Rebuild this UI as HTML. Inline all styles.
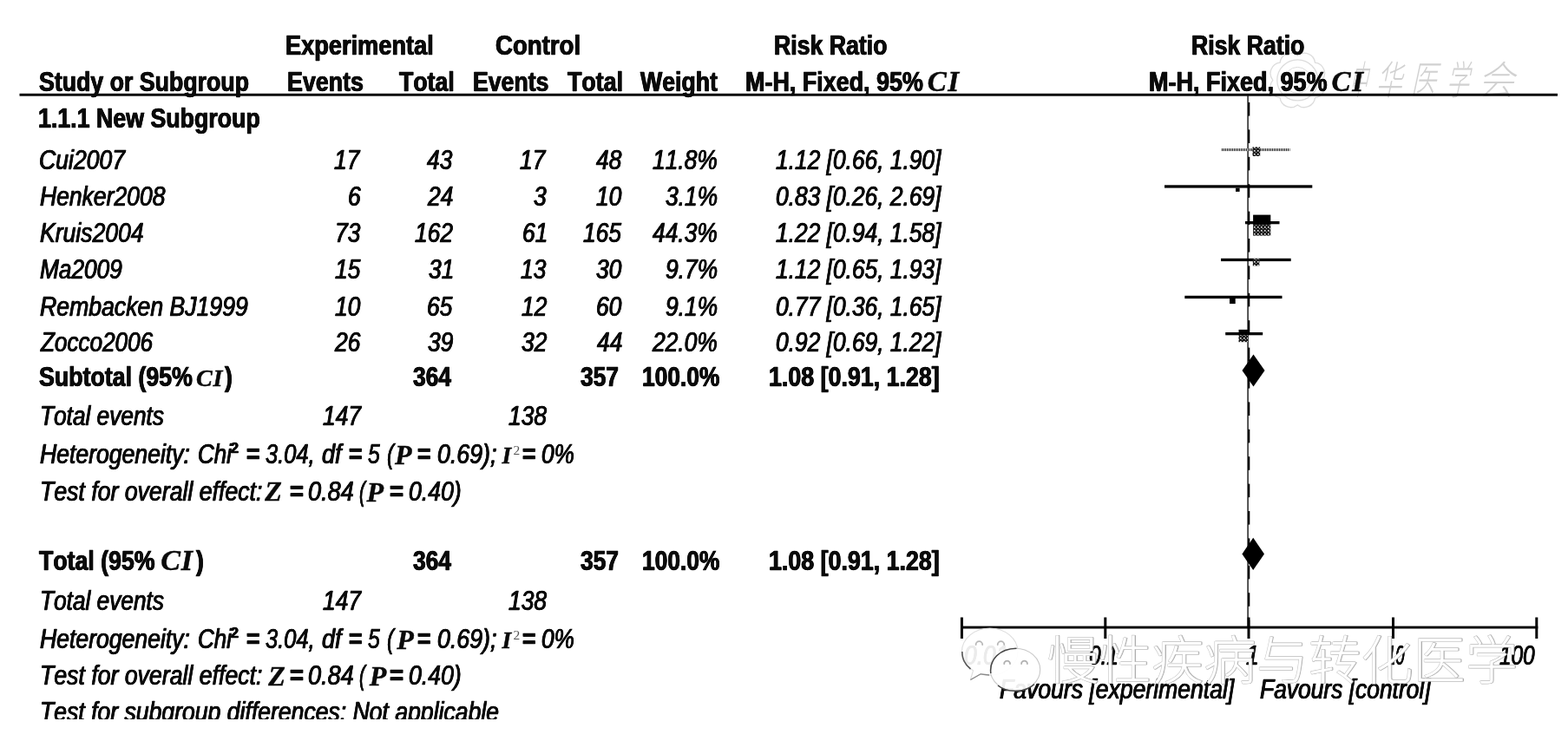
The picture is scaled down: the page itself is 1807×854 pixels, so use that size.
<!DOCTYPE html>
<html><head><meta charset="utf-8"><title>Forest plot</title>
<style>
html,body{margin:0;padding:0;background:#fff;}
body{width:1807px;height:854px;position:relative;overflow:hidden;font-family:"Liberation Sans",sans-serif;color:#0a0a0a;}
.t{position:absolute;white-space:nowrap;font-kerning:none;transform-origin:0 0;margin:0;padding:0;-webkit-text-stroke:0.6px #0a0a0a;text-shadow:0.45px 0 0 #0a0a0a,-0.45px 0 0 #0a0a0a;}
#txt{position:absolute;left:0;top:0;width:1807px;height:854px;filter:blur(0.45px);}
.b{font-weight:bold;}
.i{font-style:italic;}
.r{font-weight:normal;}
.sbi,.si,.sb{-webkit-text-stroke:0.5px #0a0a0a;text-shadow:none;}
.sbi{font-family:"Liberation Serif",serif;font-weight:bold;font-style:italic;}
.si{font-family:"Liberation Serif",serif;font-style:italic;}
.sb{font-family:"Liberation Serif",serif;font-weight:bold;}
.sr{font-family:"Liberation Serif",serif;color:#555;-webkit-text-stroke:0;text-shadow:none;}
svg{position:absolute;left:0;top:0;}
#clip{position:absolute;left:0;top:829px;width:1000px;height:25px;background:#fff;}
</style></head><body>
<div id="txt">
<svg width="1807" height="854" viewBox="0 0 1807 854">
<defs>
<pattern id="dith" width="4" height="4" patternUnits="userSpaceOnUse"><rect width="4" height="4" fill="#1a1a1a"/><rect x="1" y="1" width="1.6" height="1.6" fill="#e8e8e8"/><rect x="3" y="3" width="1" height="1" fill="#bbb"/></pattern>
<pattern id="dots" width="2" height="3" patternUnits="userSpaceOnUse"><rect width="1" height="3" fill="#222"/><rect x="1" width="1" height="3" fill="#ddd"/></pattern>
</defs>
<g id="seal" fill="none" stroke="#dcdcdc" stroke-width="1.3">
<path d="M1523.8 92.4 A12.5 12.5 0 0 1 1515.5 112.6 A12.5 12.5 0 0 1 1495.3 120.9 A12.5 12.5 0 0 1 1475.1 112.6 A12.5 12.5 0 0 1 1466.8 92.4 A12.5 12.5 0 0 1 1475.1 72.2 A12.5 12.5 0 0 1 1495.3 63.9 A12.5 12.5 0 0 1 1515.5 72.2 A12.5 12.5 0 0 1 1523.8 92.4Z"/>
<circle cx="1495.3" cy="92.4" r="23.5"/><circle cx="1495.3" cy="92.4" r="15" stroke-width="1"/>
</g>
<g id="calli" fill="#cfcfcf" opacity="0.95" font-family='"Liberation Sans", "Noto Sans CJK SC", sans-serif' font-size="46" font-weight="300">
<text transform="translate(1555.0,109) skewX(-12) scale(0.435,1)" x="0" y="0">中</text>
<text transform="translate(1585.5,109) skewX(-12) scale(0.652,1)" x="0" y="0">华</text>
<text transform="translate(1625.5,109) skewX(-12) scale(0.652,1)" x="0" y="0">医</text>
<text transform="translate(1666.5,109) skewX(-12) scale(0.565,1)" x="0" y="0">学</text>
<text transform="translate(1703.5,109) skewX(-12) scale(0.913,1)" x="0" y="0">会</text>
</g>
<g id="plot" fill="#000">
<rect x="22.5" y="107.8" width="1772.5" height="2.9"/>
<rect x="1437.4" y="110" width="1.4" height="612" fill="#111"/>
<rect x="1438.2" y="118.0" width="2.1" height="15.6"/>
<rect x="1438.2" y="149.4" width="2.1" height="15.6"/>
<rect x="1438.2" y="180.8" width="2.1" height="15.6"/>
<rect x="1438.2" y="212.2" width="2.1" height="15.6"/>
<rect x="1438.2" y="243.6" width="2.1" height="15.6"/>
<rect x="1438.2" y="275.0" width="2.1" height="15.6"/>
<rect x="1438.2" y="306.4" width="2.1" height="15.6"/>
<rect x="1438.2" y="337.8" width="2.1" height="15.6"/>
<rect x="1438.2" y="369.2" width="2.1" height="15.6"/>
<rect x="1438.2" y="400.6" width="2.1" height="15.6"/>
<rect x="1438.2" y="432.0" width="2.1" height="15.6"/>
<rect x="1438.2" y="463.4" width="2.1" height="15.6"/>
<rect x="1438.2" y="494.8" width="2.1" height="15.6"/>
<rect x="1438.2" y="526.2" width="2.1" height="15.6"/>
<rect x="1438.2" y="557.6" width="2.1" height="15.6"/>
<rect x="1438.2" y="589.0" width="2.1" height="15.6"/>
<rect x="1438.2" y="620.4" width="2.1" height="15.6"/>
<rect x="1438.2" y="651.8" width="2.1" height="15.6"/>
<rect x="1438.2" y="683.2" width="2.1" height="15.6"/>
<rect x="1438.2" y="714.6" width="2.1" height="7.4"/>
<rect x="1407.6" y="171.1" width="78.9" height="3.0" fill="url(#dots)"/>
<rect x="1342.0" y="213.3" width="170.3" height="3.3"/>
<rect x="1435.0" y="255.0" width="39.5" height="3.3"/>
<rect x="1407.0" y="297.8" width="80.7" height="3.3"/>
<rect x="1365.3" y="340.8" width="112.2" height="3.3"/>
<rect x="1412.2" y="383.0" width="43.0" height="3.3"/>
<rect x="1443.5" y="169.4" width="8.7" height="10.6" fill="url(#dith)"/>
<rect x="1424.0" y="216.6" width="4.6" height="4.3"/>
<rect x="1444.1" y="247.6" width="20.2" height="11.6"/>
<rect x="1444.1" y="259.2" width="20.2" height="12.4" fill="url(#dith)"/>
<rect x="1443.8" y="298.0" width="7.6" height="8.4" fill="url(#dith)"/>
<rect x="1417.0" y="344.0" width="6.7" height="6.1"/>
<rect x="1427.5" y="379.9" width="10.5" height="6.1"/>
<rect x="1427.5" y="386.0" width="10.5" height="8.2" fill="url(#dith)"/>
</g>
<g fill="#000">
<polygon points="1431.5,427.0 1444.5,408.4 1457.5,427.0 1444.5,445.6"/>
<polygon points="1431.4,638.4 1444.2,619.8 1457.0,638.4 1444.2,657.0"/>
</g>
<g fill="#000">
<rect x="1107.0" y="721.6" width="665.3" height="2.9"/>
<rect x="1106.9" y="711.5" width="3.0" height="24.5"/>
<rect x="1272.3" y="711.5" width="3.0" height="24.5"/>
<rect x="1437.5" y="711.5" width="3.0" height="24.5"/>
<rect x="1604.0" y="711.5" width="3.0" height="24.5"/>
<rect x="1769.3" y="711.5" width="3.0" height="24.5"/>
</g>
</svg>
<div class="t b" style="left:329.18px;top:37.06px;font-size:31px;line-height:31px;transform:scaleX(0.8770)">Experimental</div>
<div class="t b" style="left:570.87px;top:37.06px;font-size:31px;line-height:31px;transform:scaleX(0.8901)">Control</div>
<div class="t b" style="left:892.22px;top:37.06px;font-size:31px;line-height:31px;transform:scaleX(0.8604)">Risk Ratio</div>
<div class="t b" style="left:1373.22px;top:37.06px;font-size:31px;line-height:31px;transform:scaleX(0.8597)">Risk Ratio</div>
<div class="t b" style="left:44.73px;top:79.06px;font-size:31px;line-height:31px;transform:scaleX(0.8620)">Study or Subgroup</div>
<div class="t b" style="left:331.21px;top:79.06px;font-size:31px;line-height:31px;transform:scaleX(0.8646)">Events</div>
<div class="t b" style="left:459.70px;top:79.06px;font-size:31px;line-height:31px;transform:scaleX(0.8601)">Total</div>
<div class="t b" style="left:545.02px;top:79.06px;font-size:31px;line-height:31px;transform:scaleX(0.8595)">Events</div>
<div class="t b" style="left:653.70px;top:79.06px;font-size:31px;line-height:31px;transform:scaleX(0.8643)">Total</div>
<div class="t b" style="left:737.97px;top:79.06px;font-size:31px;line-height:31px;transform:scaleX(0.8610)">Weight</div>
<div class="t b" style="left:859.00px;top:79.06px;font-size:31px;line-height:31px;transform:scaleX(0.8683)">M-H, Fixed, 95%</div>
<div class="t sbi" style="left:1068.67px;top:78.06px;font-size:33px;line-height:33px;transform:scaleX(1.0000)">C</div>
<div class="t sbi" style="left:1092.32px;top:78.06px;font-size:33px;line-height:33px;transform:scaleX(1.0000)">I</div>
<div class="t b" style="left:1324.19px;top:79.06px;font-size:31px;line-height:31px;transform:scaleX(0.8709)">M-H, Fixed, 95%</div>
<div class="t sbi" style="left:1534.47px;top:78.06px;font-size:33px;line-height:33px;transform:scaleX(1.0000)">C</div>
<div class="t sbi" style="left:1558.32px;top:78.06px;font-size:33px;line-height:33px;transform:scaleX(1.0000)">I</div>
<div class="t b" style="left:44.31px;top:121.46px;font-size:31px;line-height:31px;transform:scaleX(0.8633)">1.1.1 New Subgroup</div>
<div class="t i" style="left:45.13px;top:168.66px;font-size:31px;line-height:31px;transform:scaleX(0.8577)">Cui2007</div>
<div class="t i" style="left:385.38px;top:168.66px;font-size:31px;line-height:31px;transform:scaleX(0.8500)">17</div>
<div class="t i" style="left:492.42px;top:168.66px;font-size:31px;line-height:31px;transform:scaleX(0.8500)">43</div>
<div class="t i" style="left:599.38px;top:168.66px;font-size:31px;line-height:31px;transform:scaleX(0.8500)">17</div>
<div class="t i" style="left:686.85px;top:168.66px;font-size:31px;line-height:31px;transform:scaleX(0.8500)">48</div>
<div class="t i" style="left:751.92px;top:168.66px;font-size:31px;line-height:31px;transform:scaleX(0.8500)">11.8%</div>
<div class="t i" style="left:893.54px;top:168.66px;font-size:31px;line-height:31px;transform:scaleX(0.8500)">1.12 [0.66, 1.90]</div>
<div class="t i" style="left:45.78px;top:210.66px;font-size:31px;line-height:31px;transform:scaleX(0.8548)">Henker2008</div>
<div class="t i" style="left:400.85px;top:210.66px;font-size:31px;line-height:31px;transform:scaleX(0.8500)">6</div>
<div class="t i" style="left:493.18px;top:210.66px;font-size:31px;line-height:31px;transform:scaleX(0.8500)">24</div>
<div class="t i" style="left:615.08px;top:210.66px;font-size:31px;line-height:31px;transform:scaleX(0.8500)">3</div>
<div class="t i" style="left:686.91px;top:210.66px;font-size:31px;line-height:31px;transform:scaleX(0.8500)">10</div>
<div class="t i" style="left:766.57px;top:210.66px;font-size:31px;line-height:31px;transform:scaleX(0.8500)">3.1%</div>
<div class="t i" style="left:893.54px;top:210.66px;font-size:31px;line-height:31px;transform:scaleX(0.8500)">0.83 [0.26, 2.69]</div>
<div class="t i" style="left:45.78px;top:252.86px;font-size:31px;line-height:31px;transform:scaleX(0.8569)">Kruis2004</div>
<div class="t i" style="left:386.42px;top:252.86px;font-size:31px;line-height:31px;transform:scaleX(0.8500)">73</div>
<div class="t i" style="left:477.92px;top:252.86px;font-size:31px;line-height:31px;transform:scaleX(0.8500)">162</div>
<div class="t i" style="left:602.42px;top:252.86px;font-size:31px;line-height:31px;transform:scaleX(0.8500)">61</div>
<div class="t i" style="left:671.97px;top:252.86px;font-size:31px;line-height:31px;transform:scaleX(0.8500)">165</div>
<div class="t i" style="left:751.92px;top:252.86px;font-size:31px;line-height:31px;transform:scaleX(0.8500)">44.3%</div>
<div class="t i" style="left:893.54px;top:252.86px;font-size:31px;line-height:31px;transform:scaleX(0.8500)">1.22 [0.94, 1.58]</div>
<div class="t i" style="left:45.79px;top:295.26px;font-size:31px;line-height:31px;transform:scaleX(0.8457)">Ma2009</div>
<div class="t i" style="left:386.13px;top:295.26px;font-size:31px;line-height:31px;transform:scaleX(0.8500)">15</div>
<div class="t i" style="left:494.42px;top:295.26px;font-size:31px;line-height:31px;transform:scaleX(0.8500)">31</div>
<div class="t i" style="left:600.42px;top:295.26px;font-size:31px;line-height:31px;transform:scaleX(0.8500)">13</div>
<div class="t i" style="left:686.91px;top:295.26px;font-size:31px;line-height:31px;transform:scaleX(0.8500)">30</div>
<div class="t i" style="left:766.57px;top:295.26px;font-size:31px;line-height:31px;transform:scaleX(0.8500)">9.7%</div>
<div class="t i" style="left:893.54px;top:295.26px;font-size:31px;line-height:31px;transform:scaleX(0.8500)">1.12 [0.65, 1.93]</div>
<div class="t i" style="left:45.78px;top:338.26px;font-size:31px;line-height:31px;transform:scaleX(0.8589)">Rembacken BJ1999</div>
<div class="t i" style="left:386.41px;top:338.26px;font-size:31px;line-height:31px;transform:scaleX(0.8500)">10</div>
<div class="t i" style="left:492.13px;top:338.26px;font-size:31px;line-height:31px;transform:scaleX(0.8500)">65</div>
<div class="t i" style="left:600.58px;top:338.26px;font-size:31px;line-height:31px;transform:scaleX(0.8500)">12</div>
<div class="t i" style="left:686.91px;top:338.26px;font-size:31px;line-height:31px;transform:scaleX(0.8500)">60</div>
<div class="t i" style="left:766.57px;top:338.26px;font-size:31px;line-height:31px;transform:scaleX(0.8500)">9.1%</div>
<div class="t i" style="left:893.54px;top:338.26px;font-size:31px;line-height:31px;transform:scaleX(0.8500)">0.77 [0.36, 1.65]</div>
<div class="t i" style="left:47.11px;top:379.46px;font-size:31px;line-height:31px;transform:scaleX(0.8416)">Zocco2006</div>
<div class="t i" style="left:386.19px;top:379.46px;font-size:31px;line-height:31px;transform:scaleX(0.8500)">26</div>
<div class="t i" style="left:492.73px;top:379.46px;font-size:31px;line-height:31px;transform:scaleX(0.8500)">39</div>
<div class="t i" style="left:600.58px;top:379.46px;font-size:31px;line-height:31px;transform:scaleX(0.8500)">32</div>
<div class="t i" style="left:687.68px;top:379.46px;font-size:31px;line-height:31px;transform:scaleX(0.8500)">44</div>
<div class="t i" style="left:751.92px;top:379.46px;font-size:31px;line-height:31px;transform:scaleX(0.8500)">22.0%</div>
<div class="t i" style="left:893.54px;top:379.46px;font-size:31px;line-height:31px;transform:scaleX(0.8500)">0.92 [0.69, 1.22]</div>
<div class="t b" style="left:44.73px;top:419.06px;font-size:31px;line-height:31px;transform:scaleX(0.8630)">Subtotal (95%</div>
<div class="t sbi" style="left:226.04px;top:421.85px;font-size:28px;line-height:28px;transform:scaleX(1.0000)">C</div>
<div class="t sbi" style="left:245.47px;top:421.85px;font-size:28px;line-height:28px;transform:scaleX(1.0000)">I</div>
<div class="t b" style="left:258.97px;top:419.06px;font-size:31px;line-height:31px;transform:scaleX(0.8500)">)</div>
<div class="t b" style="left:475.68px;top:419.06px;font-size:31px;line-height:31px;transform:scaleX(0.8500)">364</div>
<div class="t b" style="left:669.19px;top:419.06px;font-size:31px;line-height:31px;transform:scaleX(0.8500)">357</div>
<div class="t b" style="left:739.83px;top:419.06px;font-size:31px;line-height:31px;transform:scaleX(0.8500)">100.0%</div>
<div class="t b" style="left:886.31px;top:419.06px;font-size:31px;line-height:31px;transform:scaleX(0.8646)">1.08 [0.91, 1.28]</div>
<div class="t b" style="left:45.20px;top:630.86px;font-size:31px;line-height:31px;transform:scaleX(0.8611)">Total (95%</div>
<div class="t sbi" style="left:185.24px;top:628.62px;font-size:34px;line-height:34px;transform:scaleX(1.0000)">C</div>
<div class="t sbi" style="left:208.83px;top:628.62px;font-size:34px;line-height:34px;transform:scaleX(1.0000)">I</div>
<div class="t b" style="left:225.77px;top:630.86px;font-size:31px;line-height:31px;transform:scaleX(0.8500)">)</div>
<div class="t b" style="left:475.68px;top:630.86px;font-size:31px;line-height:31px;transform:scaleX(0.8500)">364</div>
<div class="t b" style="left:669.19px;top:630.86px;font-size:31px;line-height:31px;transform:scaleX(0.8500)">357</div>
<div class="t b" style="left:739.83px;top:630.86px;font-size:31px;line-height:31px;transform:scaleX(0.8500)">100.0%</div>
<div class="t b" style="left:886.31px;top:630.86px;font-size:31px;line-height:31px;transform:scaleX(0.8646)">1.08 [0.91, 1.28]</div>
<div class="t i" style="left:46.04px;top:464.26px;font-size:31px;line-height:31px;transform:scaleX(0.8462)">Total events</div>
<div class="t i" style="left:371.73px;top:464.26px;font-size:31px;line-height:31px;transform:scaleX(0.8500)">147</div>
<div class="t i" style="left:586.19px;top:464.26px;font-size:31px;line-height:31px;transform:scaleX(0.8500)">138</div>
<div class="t i" style="left:45.68px;top:508.06px;font-size:31px;line-height:31px;transform:scaleX(0.8575)">Heterogeneity:</div>
<div class="t i" style="left:227.77px;top:508.06px;font-size:31px;line-height:31px;transform:scaleX(0.8373)">Chi</div>
<div class="t b" style="left:266.05px;top:509.16px;font-size:16px;line-height:16px;transform:scaleX(1.0000)">2</div>
<div class="t b" style="left:283.90px;top:508.06px;font-size:31px;line-height:31px;transform:scaleX(0.8556)">=</div>
<div class="t i" style="left:305.70px;top:508.06px;font-size:31px;line-height:31px;transform:scaleX(0.8217)">3.04,</div>
<div class="t i" style="left:371.39px;top:508.06px;font-size:31px;line-height:31px;transform:scaleX(0.8695)">df</div>
<div class="t b" style="left:401.70px;top:508.06px;font-size:31px;line-height:31px;transform:scaleX(0.8556)">=</div>
<div class="t i" style="left:424.44px;top:508.06px;font-size:31px;line-height:31px;transform:scaleX(0.8002)">5</div>
<div class="t i" style="left:445.59px;top:508.06px;font-size:31px;line-height:31px;transform:scaleX(0.7660)">(</div>
<div class="t sbi" style="left:455.12px;top:508.10px;font-size:32px;line-height:32px;transform:scaleX(1.0000)">P</div>
<div class="t b" style="left:481.40px;top:508.06px;font-size:31px;line-height:31px;transform:scaleX(0.8556)">=</div>
<div class="t i" style="left:503.54px;top:508.06px;font-size:31px;line-height:31px;transform:scaleX(0.8637)">0.69);</div>
<div class="t sbi" style="left:578.47px;top:511.27px;font-size:27.5px;line-height:27.5px;transform:scaleX(1.0000)">I</div>
<div class="t sr" style="left:591.52px;top:511.12px;font-size:15.5px;line-height:15.5px;transform:scaleX(1.0000)">2</div>
<div class="t b" style="left:601.90px;top:508.06px;font-size:31px;line-height:31px;transform:scaleX(0.8556)">=</div>
<div class="t i" style="left:623.96px;top:508.06px;font-size:31px;line-height:31px;transform:scaleX(0.8427)">0%</div>
<div class="t i" style="left:46.00px;top:550.56px;font-size:31px;line-height:31px;transform:scaleX(0.8601)">Test for overall effect:</div>
<div class="t sbi" style="left:305.28px;top:550.00px;font-size:32px;line-height:32px;transform:scaleX(1.0000)">Z</div>
<div class="t b" style="left:333.77px;top:550.56px;font-size:31px;line-height:31px;transform:scaleX(0.8813)">=</div>
<div class="t i" style="left:354.52px;top:550.56px;font-size:31px;line-height:31px;transform:scaleX(0.8734)">0.84</div>
<div class="t i" style="left:413.81px;top:550.56px;font-size:31px;line-height:31px;transform:scaleX(0.6789)">(</div>
<div class="t sbi" style="left:422.62px;top:550.50px;font-size:32px;line-height:32px;transform:scaleX(1.0000)">P</div>
<div class="t b" style="left:448.86px;top:550.56px;font-size:31px;line-height:31px;transform:scaleX(0.8877)">=</div>
<div class="t i" style="left:471.04px;top:550.56px;font-size:31px;line-height:31px;transform:scaleX(0.8597)">0.40)</div>
<div class="t i" style="left:46.04px;top:676.96px;font-size:31px;line-height:31px;transform:scaleX(0.8462)">Total events</div>
<div class="t i" style="left:371.73px;top:676.96px;font-size:31px;line-height:31px;transform:scaleX(0.8500)">147</div>
<div class="t i" style="left:586.19px;top:676.96px;font-size:31px;line-height:31px;transform:scaleX(0.8500)">138</div>
<div class="t i" style="left:45.68px;top:721.06px;font-size:31px;line-height:31px;transform:scaleX(0.8575)">Heterogeneity:</div>
<div class="t i" style="left:227.77px;top:721.06px;font-size:31px;line-height:31px;transform:scaleX(0.8373)">Chi</div>
<div class="t b" style="left:266.05px;top:722.16px;font-size:16px;line-height:16px;transform:scaleX(1.0000)">2</div>
<div class="t b" style="left:283.90px;top:721.06px;font-size:31px;line-height:31px;transform:scaleX(0.8556)">=</div>
<div class="t i" style="left:305.70px;top:721.06px;font-size:31px;line-height:31px;transform:scaleX(0.8217)">3.04,</div>
<div class="t i" style="left:371.39px;top:721.06px;font-size:31px;line-height:31px;transform:scaleX(0.8695)">df</div>
<div class="t b" style="left:401.70px;top:721.06px;font-size:31px;line-height:31px;transform:scaleX(0.8556)">=</div>
<div class="t i" style="left:424.44px;top:721.06px;font-size:31px;line-height:31px;transform:scaleX(0.8002)">5</div>
<div class="t i" style="left:445.59px;top:721.06px;font-size:31px;line-height:31px;transform:scaleX(0.7660)">(</div>
<div class="t sbi" style="left:457.32px;top:721.10px;font-size:32px;line-height:32px;transform:scaleX(1.0000)">P</div>
<div class="t b" style="left:481.40px;top:721.06px;font-size:31px;line-height:31px;transform:scaleX(0.8556)">=</div>
<div class="t i" style="left:503.54px;top:721.06px;font-size:31px;line-height:31px;transform:scaleX(0.8637)">0.69);</div>
<div class="t sbi" style="left:578.47px;top:724.27px;font-size:27.5px;line-height:27.5px;transform:scaleX(1.0000)">I</div>
<div class="t sr" style="left:591.52px;top:724.12px;font-size:15.5px;line-height:15.5px;transform:scaleX(1.0000)">2</div>
<div class="t b" style="left:601.90px;top:721.06px;font-size:31px;line-height:31px;transform:scaleX(0.8556)">=</div>
<div class="t i" style="left:623.96px;top:721.06px;font-size:31px;line-height:31px;transform:scaleX(0.8427)">0%</div>
<div class="t i" style="left:46.00px;top:763.46px;font-size:31px;line-height:31px;transform:scaleX(0.8601)">Test for overall effect:</div>
<div class="t sbi" style="left:309.28px;top:762.90px;font-size:32px;line-height:32px;transform:scaleX(1.0000)">Z</div>
<div class="t b" style="left:333.77px;top:763.46px;font-size:31px;line-height:31px;transform:scaleX(0.8813)">=</div>
<div class="t i" style="left:354.52px;top:763.46px;font-size:31px;line-height:31px;transform:scaleX(0.8734)">0.84</div>
<div class="t i" style="left:413.81px;top:763.46px;font-size:31px;line-height:31px;transform:scaleX(0.6789)">(</div>
<div class="t sbi" style="left:425.82px;top:763.40px;font-size:32px;line-height:32px;transform:scaleX(1.0000)">P</div>
<div class="t b" style="left:448.86px;top:763.46px;font-size:31px;line-height:31px;transform:scaleX(0.8877)">=</div>
<div class="t i" style="left:471.04px;top:763.46px;font-size:31px;line-height:31px;transform:scaleX(0.8597)">0.40)</div>
<div class="t i" style="left:46.01px;top:805.26px;font-size:31px;line-height:31px;transform:scaleX(0.8575)">Test for subgroup differences: Not applicable</div>
<div class="t i" style="left:1110.85px;top:740.46px;font-size:31px;line-height:31px;transform:scaleX(0.8500)">0.01</div>
<div class="t i" style="left:1255.34px;top:740.46px;font-size:31px;line-height:31px;transform:scaleX(0.7872)">0.1</div>
<div class="t i" style="left:1435.82px;top:740.46px;font-size:31px;line-height:31px;transform:scaleX(0.8500)">1</div>
<div class="t i" style="left:1597.92px;top:740.46px;font-size:31px;line-height:31px;transform:scaleX(0.5954)">10</div>
<div class="t i" style="left:1728.27px;top:740.46px;font-size:31px;line-height:31px;transform:scaleX(0.7856)">100</div>
<div class="t i" style="left:1151.98px;top:778.86px;font-size:31px;line-height:31px;transform:scaleX(0.8570)">Favours [experimental]</div>
<div class="t i" style="left:1452.09px;top:778.96px;font-size:31px;line-height:31px;transform:scaleX(0.8516)">Favours [control]</div>
<div id="clip"></div>
</div>
<svg width="1807" height="854" viewBox="0 0 1807 854">
<g id="wechat" stroke-linejoin="round">
<path d="M1140.7 724 C1158.5 724 1172.9 736 1172.9 751 C1172.9 766 1158.5 778.2 1140.7 778.2 C1137 778.2 1133.5 777.7 1130.2 776.8 L1118.4 783.5 L1121.5 772.8 C1113.5 767.8 1108.5 760 1108.5 751 C1108.5 736 1122.9 724 1140.7 724Z" fill="#fff" fill-opacity="0.92" stroke="#dedede" stroke-width="1.2"/>
<path d="M1118.5 771 C1112 766 1108.8 758 1108.8 751" fill="none" stroke="#333" stroke-width="1.6" opacity="0.8"/>
<path d="M1118.4 783.5 L1130.2 776.8 L1140 778" fill="none" stroke="#888" stroke-width="1.3"/>
<path d="M1124.6 743 A3.8 3.8 0 0 1 1132.2 743 M1149.7 743 A3.8 3.8 0 0 1 1157.3 743" fill="none" stroke="#b8b8b8" stroke-width="1.8" stroke-linecap="round"/>
<ellipse cx="1170" cy="771.8" rx="28.7" ry="24.6" fill="#fff" fill-opacity="0.93" stroke="#c8c8c8" stroke-width="1.1"/><path d="M1141.8 776 C1140 760 1152 747.5 1171.5 747.2 M1150 790 C1160 798.5 1182 798.5 1192 788.5" fill="none" stroke="#444" stroke-width="1.5"/>
<path d="M1157.2 765 A3.4 3.4 0 0 1 1164 765 M1177.1 765 A3.4 3.4 0 0 1 1183.9 765" fill="none" stroke="#b0b0b0" stroke-width="1.8" stroke-linecap="round"/>
</g>
<defs><g id="wmg"><text x="1206.5" y="782.6" font-size="60" letter-spacing="0.3" font-weight="300" font-family='"Liberation Sans", "Noto Sans CJK SC", sans-serif'>慢性疾病与转化医学</text></g></defs>
<use href="#wmg" x="0.9" y="0.9" fill="none" stroke="#8c8c8c" stroke-width="0.96" stroke-linejoin="round" opacity="0.75"/>
<use href="#wmg" fill="#fff" stroke="#c6c6c6" stroke-width="1.2" paint-order="stroke" stroke-linejoin="round"/>
</svg>
</body></html>
